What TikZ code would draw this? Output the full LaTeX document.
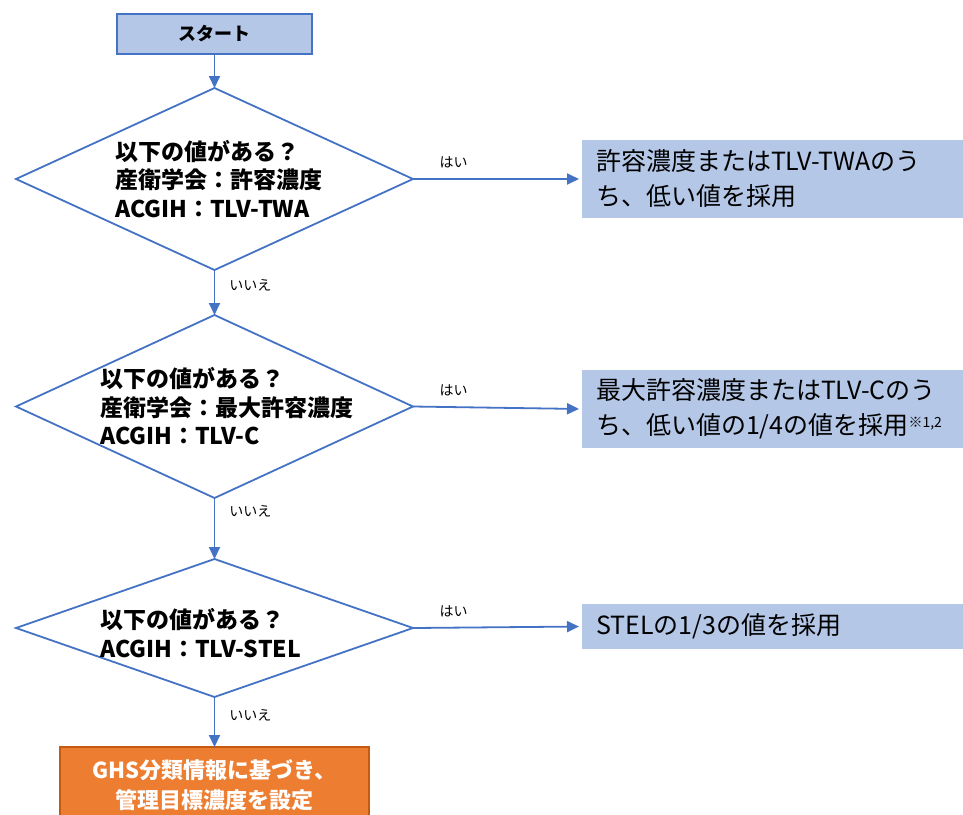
\documentclass[tikz,border=0pt]{standalone}
\usepackage{fontspec}
\setmainfont{Noto Sans CJK JP}
\usepackage{tikz}
\usetikzlibrary{positioning,shapes.geometric,arrows.meta}
\definecolor{boxblue}{HTML}{B4C7E7}
\definecolor{lineblue}{HTML}{4472C4}
\definecolor{ghsorange}{HTML}{ED7D31}
\definecolor{ghsedge}{HTML}{C55A11}
\tikzstyle{startbox} = [rectangle, draw=lineblue, fill=boxblue, line width=1.8pt, outer sep=0pt, minimum width=195pt, minimum height=40pt, font=\fontsize{18}{18}\selectfont\bfseries]
\tikzstyle{question} = [diamond, draw=lineblue, fill=white, line width=1.8pt, outer sep=0pt, minimum width=397pt, inner sep=0pt]
\tikzstyle{qtext} = [align=left, inner sep=0pt, font=\fontsize{23}{28.5}\selectfont\bfseries]
\tikzstyle{result} = [rectangle, fill=boxblue, outer sep=0pt, minimum width=390pt, text width=362pt, inner xsep=14pt, inner ysep=0pt, align=left, font=\fontsize{25}{35}\selectfont]
\tikzstyle{ghs} = [rectangle, draw=ghsedge, fill=ghsorange, line width=1.2pt, outer sep=0pt, minimum width=309pt, minimum height=76pt, align=center, text=white, font=\fontsize{22}{30}\selectfont\bfseries]
\tikzstyle{flow} = [->, draw=lineblue, line width=1.8pt]
\tikzstyle{answer} = [inner sep=0pt, font=\fontsize{14}{14}\selectfont]

\begin{document}
\begin{tikzpicture}[x=1pt,y=1pt,>={Triangle[length=12pt,width=11pt]}]
  \useasboundingbox (0,0) rectangle (963,-814);

  \node[startbox] (S) at (214.5,-34) {スタート};
  \node[question, minimum height=182pt] (Q_1) [below=34pt of S] {};
  \node[question, minimum height=183pt] (Q_2) [below=45pt of Q_1] {};
  \node[question, minimum height=138pt] (Q_3) [below=61pt of Q_2] {};
  \node[ghs] (G) [below=50pt of Q_3] {GHS分類情報に基づき、\\管理目標濃度を設定};

  \node[qtext] (Q_1txt) [right=99pt of Q_1.west] {以下の値がある？\\産衛学会：許容濃度\\ACGIH：TLV-TWA};
  \node[qtext] (Q_2txt) [right=84pt of Q_2.west] {以下の値がある？\\産衛学会：最大許容濃度\\ACGIH：TLV-C};
  \node[qtext, yshift=-5pt] (Q_3txt) [right=84pt of Q_3.west] {以下の値がある？\\ACGIH：TLV-STEL};

  \node[result, minimum height=78pt] (A_1) [right=169pt of Q_1] {許容濃度またはTLV-TWAのう\\ち、低い値を採用};
  \node[result, minimum height=78pt, yshift=-2.5pt] (A_2) [right=169pt of Q_2] {最大許容濃度またはTLV-Cのう\\ち、低い値の1/4の値を採用\raisebox{7pt}{\fontsize{14}{14}\selectfont ※1,2}};
  \node[result, minimum height=45pt, yshift=1.5pt] (A_3) [right=169pt of Q_3] {STELの1/3の値を採用};

  % vertical flow
  \draw[flow] (S) -- (Q_1);
  \draw[flow] (Q_1) -- node[answer, pos=0.33, right=14pt] {いいえ} (Q_2);
  \draw[flow] (Q_2) -- node[answer, pos=0.21, right=14pt] {いいえ} (Q_3);
  \draw[flow] (Q_3) -- node[answer, pos=0.36, right=14pt] {いいえ} (G);

  % yes branches
  \draw[flow, shorten >=3pt] (Q_1.east) -- node[answer, pos=0.24, above=10pt] {はい} (A_1.west);
  \draw[flow, shorten >=3pt] (Q_2.east) -- node[answer, pos=0.24, above=10pt] {はい} (A_2.west);
  \draw[flow, shorten >=3pt] (Q_3.east) -- node[answer, pos=0.24, above=10pt] {はい} (A_3.west);
\end{tikzpicture}
\end{document}
